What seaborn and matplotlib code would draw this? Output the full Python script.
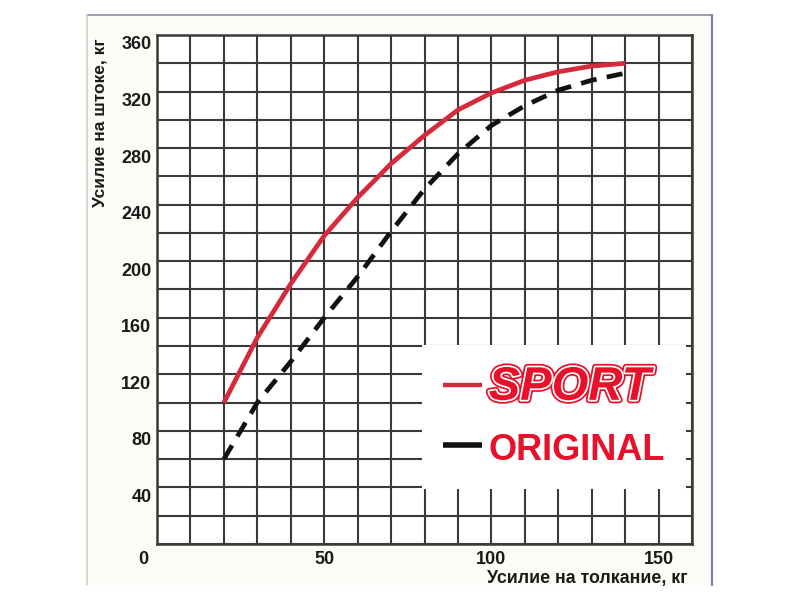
import matplotlib
matplotlib.use("Agg")
import matplotlib.pyplot as plt
import matplotlib.patheffects as pe
from matplotlib.lines import Line2D
from matplotlib.patches import Rectangle
from matplotlib.ticker import MultipleLocator, FixedLocator
from matplotlib.transforms import ScaledTranslation
import seaborn as sns
import pandas as pd

# ---- data ----
push_force = [20, 30, 40, 50, 60, 70, 80, 90, 100, 110, 120, 130, 140]
sport_rod = [100, 146, 184, 218, 245, 269, 289, 307, 319, 328, 334, 338, 340]
original_rod = [60, 100, 129, 160, 189, 221, 251, 276, 296, 310, 321, 328, 333]
series_names = ["SPORT", "ORIGINAL"]
x_tick_values = [0, 50, 100, 150]
x_tick_labels = ["0", "50", "100", "150"]
y_tick_values = [40, 80, 120, 160, 200, 240, 280, 320, 360]
y_tick_labels = ["40", "80", "120", "160", "200", "240", "280", "320", "360"]
x_title = "Усилие на толкание, кг"
y_title = "Усилие на штоке, кг"

df = pd.DataFrame({
    "x": push_force + push_force,
    "y": sport_rod + original_rod,
    "series": [series_names[0]] * len(push_force) + [series_names[1]] * len(push_force),
})

sns.set_theme(style="white")
plt.rcParams["font.family"] = ["Liberation Sans", "DejaVu Sans"]

RED_LINE = "#d42a3c"
RED_TEXT = "#e8102a"
GRID = "#3a3a3a"

fig = plt.figure(figsize=(8, 6), dpi=100)
fig.patch.set_facecolor("white")

# faint page frame of the scanned picture
fig.add_artist(Rectangle((87 / 800, 1 - 585 / 600), (712 - 87) / 800, (585 - 15) / 600,
                         transform=fig.transFigure, facecolor="#fdfdf8", edgecolor="none", zorder=-10))
fig.add_artist(Line2D([87 / 800, 712 / 800], [1 - 15 / 600, 1 - 15 / 600], transform=fig.transFigure,
                      color="#8a8aa5", lw=1.2))
fig.add_artist(Line2D([87 / 800, 87 / 800], [1 - 15 / 600, 1 - 585 / 600], transform=fig.transFigure,
                      color="#cfcfcf", lw=1.2))
fig.add_artist(Line2D([712 / 800, 712 / 800], [1 - 15 / 600, 1 - 585 / 600], transform=fig.transFigure,
                      color="#8080a8", lw=1.6))

ax = fig.add_axes([157 / 800, 1 - 544 / 600, (692 - 157) / 800, (544 - 35) / 600])
ax.set_facecolor("white")

sns.lineplot(data=df, x="x", y="y", hue="series", style="series",
             palette={"SPORT": RED_LINE, "ORIGINAL": "#111111"},
             dashes={"SPORT": "", "ORIGINAL": (3.4, 2.2)},
             linewidth=3.4, legend=False, ax=ax, zorder=3)
for ln in ax.get_lines():
    ln.set_dash_capstyle("butt")
    ln.set_solid_capstyle("butt")
    ln.set_solid_joinstyle("round")

ax.set_xlim(0, 160)
ax.set_ylim(0, 360)
ax.xaxis.set_major_locator(FixedLocator(x_tick_values))
ax.set_xticklabels(x_tick_labels)
ax.xaxis.set_minor_locator(MultipleLocator(10))
ax.yaxis.set_major_locator(FixedLocator(y_tick_values))
ax.set_yticklabels(y_tick_labels)
ax.yaxis.set_minor_locator(MultipleLocator(20))
ax.grid(True, which="both", color=GRID, linewidth=1.5)
ax.set_axisbelow(True)
ax.tick_params(which="both", length=0)
ax.tick_params(axis="x", pad=5, labelsize=13, labelcolor="#1a1a1a")
ax.tick_params(axis="y", pad=4, labelsize=13, labelcolor="#1a1a1a")
for lab in ax.get_xticklabels() + ax.get_yticklabels():
    lab.set_fontweight("bold")
for lab in ax.get_yticklabels():
    lab.set_transform(lab.get_transform() + ScaledTranslation(0, -0.08, fig.dpi_scale_trans))
xl = ax.get_xticklabels()
xl[0].set_transform(xl[0].get_transform() + ScaledTranslation(-0.14, 0, fig.dpi_scale_trans))
for s in ax.spines.values():
    s.set_color(GRID)
    s.set_linewidth(1.8)
ax.set_xlabel("")
ax.set_ylabel("")

fig.text(100 / 800, 1 - 38 / 600, y_title, rotation=90, ha="center", va="top",
         fontsize=12.5, fontweight="bold", color="#1a1a1a")
fig.text(688 / 800, 1 - 578 / 600, x_title, ha="right", va="center",
         fontsize=12.8, fontweight="bold", color="#1a1a1a")

handles = [Line2D([], [], color=RED_LINE, lw=3.2, solid_capstyle="butt"),
           Line2D([], [], color="#111111", lw=4.0, solid_capstyle="butt")]
leg = ax.legend(handles, series_names, loc="upper left",
                bbox_to_anchor=((422 - 157) / 535, 1 - (345 - 35) / 509),
                borderaxespad=0, frameon=True, fancybox=False, framealpha=1,
                facecolor="white", edgecolor="none",
                prop={"size": 30, "weight": "bold"}, labelcolor=RED_TEXT,
                handlelength=0.95, handletextpad=0.15, borderpad=0.5, labelspacing=0.5)
leg.set_zorder(5)
t_sport, t_orig = leg.get_texts()
t_sport.set_fontstyle("italic")
t_sport.set_fontsize(34)
t_sport.set_path_effects([pe.Stroke(linewidth=5, foreground=RED_TEXT),
                          pe.Stroke(linewidth=2.5, foreground="white"),
                          pe.Normal()])
t_orig.set_fontsize(26)

fig.savefig("out.png", dpi=100)
